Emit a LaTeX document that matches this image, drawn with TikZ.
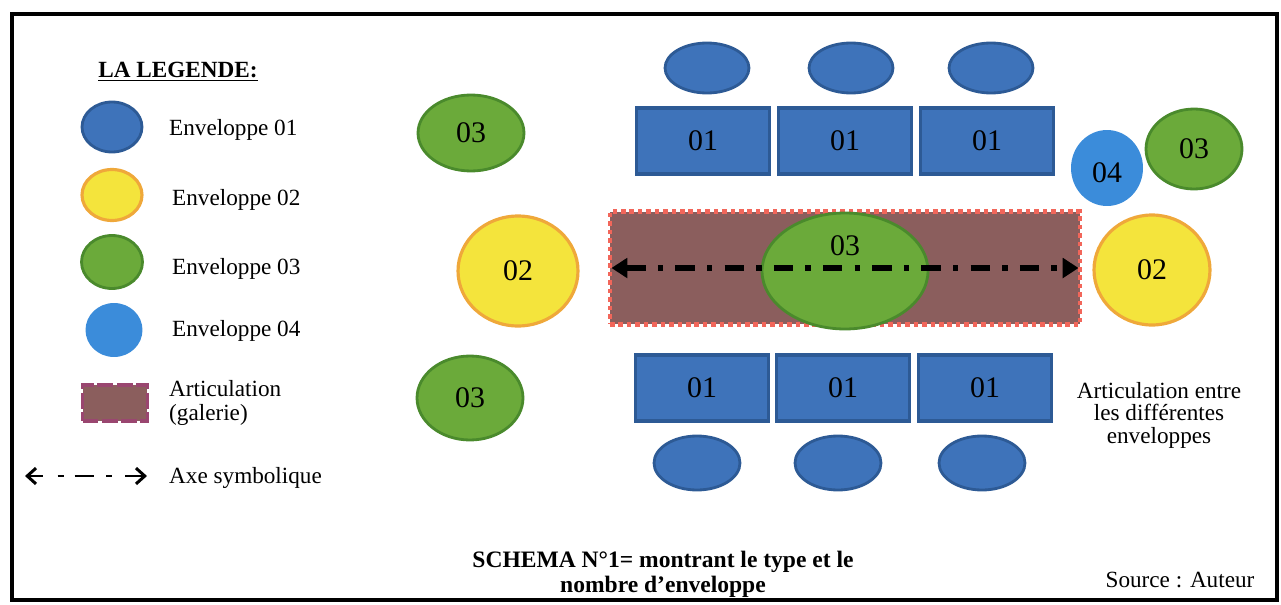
\documentclass[tikz,border=0pt]{standalone}
\usepackage{fontspec}
\setmainfont{Liberation Serif}
\usetikzlibrary{arrows.meta,positioning,shapes.geometric}
\definecolor{envblue}{HTML}{3E73BA}
\definecolor{envblueline}{HTML}{2D5A95}
\definecolor{envyellow}{HTML}{F4E43C}
\definecolor{envorange}{HTML}{EFA83A}
\definecolor{envgreen}{HTML}{6BAA3A}
\definecolor{envgreenline}{HTML}{4A8A2C}
\definecolor{envsky}{HTML}{3B8CDA}
\definecolor{galbrown}{HTML}{8B5E5D}
\definecolor{galred}{HTML}{F2665A}
\definecolor{galpurple}{HTML}{9A4670}

\begin{document}
\begin{tikzpicture}[
  x=0.02cm, y=-0.02cm,
  every node/.style={font=\fontsize{13.2}{15.5}\selectfont},
  num/.style={font=\fontsize{17}{19}\selectfont},
  env1/.style={
    ellipse,
    draw=envblueline,
    line width=1.6pt,
    fill=envblue,
    inner sep=0pt
  },
  bloc/.style={
    rectangle,
    draw=envblueline,
    line width=1.8pt,
    fill=envblue,
    minimum width=2.66cm,
    minimum height=1.32cm,
    num
  },
  env2/.style={
    ellipse,
    draw=envorange,
    line width=1.8pt,
    fill=envyellow,
    inner sep=0pt,
    num
  },
  env3/.style={
    ellipse,
    draw=envgreenline,
    line width=1.6pt,
    fill=envgreen,
    inner sep=0pt,
    num
  },
  env4/.style={
    ellipse,
    fill=envsky,
    inner sep=0pt,
    num
  },
  galerie/.style={
    rectangle,
    fill=galbrown,
    draw=galred,
    line width=2.4pt,
    dash pattern=on 2.6pt off 2.2pt
  },
  legtext/.style={anchor=west, align=left},
  axe/.style={
    line width=3.4pt,
    dash pattern=on 11pt off 7pt on 3pt off 7pt,
    {Triangle[length=9pt,width=11pt]}-{Triangle[length=9pt,width=11pt]}
  },
  legaxe/.style={
    line width=1.7pt,
    dash pattern=on 8pt off 8.5pt on 3.4pt off 6.2pt on 11.3pt off 6.8pt on 3.4pt off 7.4pt on 30pt,
    {Straight Barb[length=5pt,width=9pt]}-{Straight Barb[length=5pt,width=9pt]}
  }
]

% page and frame
\useasboundingbox (0,0) rectangle (1281,605);
\draw[line width=2.4pt] (12,14) rectangle (1277,600);

% legend
\node[font=\fontsize{13.2}{15.5}\selectfont\bfseries] (titre) at (178,72) {\underline{LA LEGENDE:}};
\node[env1, minimum width=1.2cm, minimum height=1.0cm] (leg1) at (112,127) {};
\node[env2, minimum width=1.2cm, minimum height=1.02cm] (leg2) at (112,195) {};
\node[env3, minimum width=1.22cm, minimum height=1.06cm] (leg3) at (112,262) {};
\node[env4, minimum width=1.14cm, minimum height=1.08cm] (leg4) at (114,330) {};
\node[rectangle, fill=galbrown, draw=galpurple, line width=1.8pt, dash pattern=on 9pt off 2pt,
  minimum width=1.3cm, minimum height=0.72cm] (leggal) at (115,403) {};
\coordinate (axeA) at (25,476);
\coordinate (axeB) at (147,476);
\draw[legaxe] (axeA) -- (axeB);

\node[legtext] (txt1) at (163,130) {Enveloppe 01};
\node[legtext] (txt2) at (166,200) {Enveloppe 02};
\node[legtext] (txt3) at (166,269) {Enveloppe 03};
\node[legtext] (txt4) at (166,331) {Enveloppe 04};
\node[legtext, font=\fontsize{13.2}{13.4}\selectfont] (txtgal) at (163,403) {Articulation\\(galerie)};
\node[legtext] (txtaxe) at (163,478) {Axe symbolique};

% top row
\node[env1, minimum width=1.68cm, minimum height=1.0cm] (haut1) at (707,68) {};
\node[env1, minimum width=1.68cm, minimum height=1.0cm] (haut2) at (851,68) {};
\node[env1, minimum width=1.68cm, minimum height=1.0cm] (haut3) at (991,68) {};
\node[bloc] (bloc1) at (703,141) {01};
\node[bloc] (bloc2) at (845,141) {01};
\node[bloc] (bloc3) at (987,141) {01};

% galerie with central envelope
\node[galerie, minimum width=9.4cm, minimum height=2.26cm] (gal) at (845,268) {};
\node[env3, minimum width=3.32cm, minimum height=2.32cm,
  label={[num, yshift=0.5cm]center:03}] (centre) at (845,271) {};
\draw[axe] ([xshift=2pt]gal.west) -- ([xshift=-2pt]gal.east);

% bottom row
\node[bloc] (bloc4) at (702,388) {01};
\node[bloc] (bloc5) at (843,388) {01};
\node[bloc] (bloc6) at (985,388) {01};
\node[env1, minimum width=1.72cm, minimum height=1.08cm] (bas1) at (697,463) {};
\node[env1, minimum width=1.72cm, minimum height=1.08cm] (bas2) at (838,463) {};
\node[env1, minimum width=1.72cm, minimum height=1.08cm] (bas3) at (982,463) {};

% left side
\node[env3, minimum width=2.12cm, minimum height=1.52cm] (gauche1) at (471,133) {03};
\node[env2, minimum width=2.4cm, minimum height=2.2cm] (gauche2) at (518,271) {02};
\node[env3, minimum width=2.12cm, minimum height=1.68cm] (gauche3) at (470,398) {03};

% right side
\node[env4, minimum width=1.44cm, minimum height=1.52cm,
  label={[num, yshift=-0.1cm]center:04}] (droite4) at (1107,168) {};
\node[env3, minimum width=1.92cm, minimum height=1.6cm] (droite3) at (1194,149) {03};
\node[env2, minimum width=2.32cm, minimum height=2.2cm] (droite2) at (1152,270) {02};
\node[align=center, font=\fontsize{13.2}{12.8}\selectfont] (note) at (1159,415) {Articulation entre\\les différentes\\enveloppes};

% caption
\node[align=center, font=\fontsize{13.4}{14.4}\selectfont\bfseries] (schema) at (663,574) {SCHEMA N°1= montrant le type et le\\nombre d’enveloppe};
\node (source) at (1180,580) {Source : Auteur};

\end{tikzpicture}
\end{document}
